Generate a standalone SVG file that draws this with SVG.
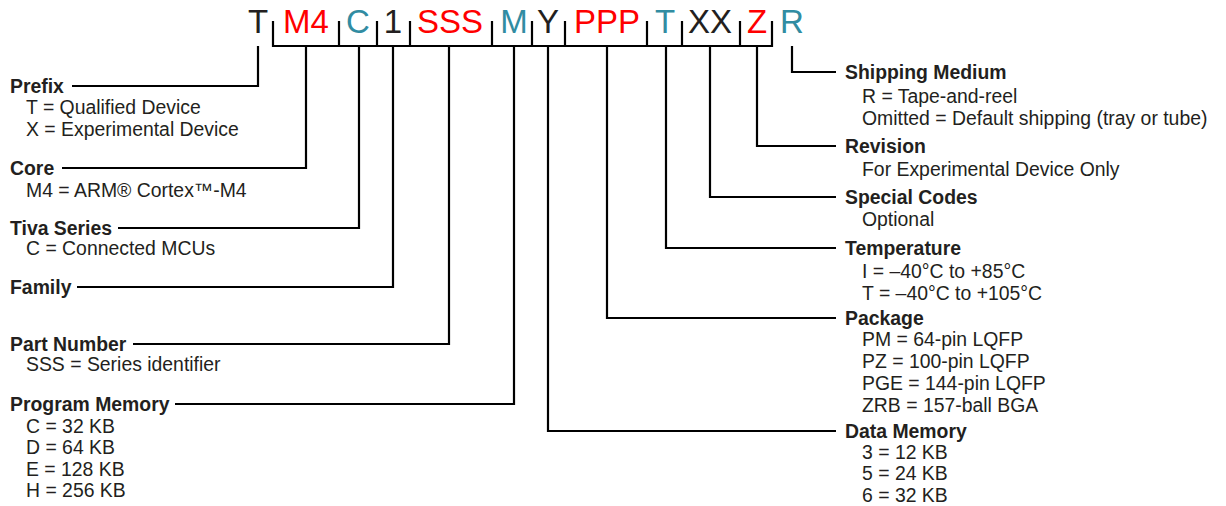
<svg xmlns="http://www.w3.org/2000/svg" width="1226" height="506" viewBox="0 0 1226 506">
<style>
.code{font-family:"Liberation Sans",Arial,sans-serif;font-size:33px;text-anchor:middle}
.k{fill:#231f20}.r{fill:#ff0000}.t{fill:#318ca2}
.h{font-family:"Liberation Sans",Arial,sans-serif;font-size:19.4px;font-weight:bold;fill:#231f20}
.s{font-family:"Liberation Sans",Arial,sans-serif;font-size:19.4px;fill:#231f20}
.ln{fill:none;stroke:#000;stroke-width:2.2}
</style>
<rect width="1226" height="506" fill="#fff"/>
<g id="code">
<text class="code k" x="258" y="33">T</text>
<text class="code r" x="306" y="33">M4</text>
<text class="code t" x="358" y="33">C</text>
<text class="code k" x="393" y="33">1</text>
<text class="code r" x="450" y="33">SSS</text>
<text class="code t" x="514" y="33">M</text>
<text class="code k" x="548" y="33">Y</text>
<text class="code r" x="607" y="33">PPP</text>
<text class="code t" x="665" y="33">T</text>
<text class="code k" x="710" y="33">XX</text>
<text class="code r" x="757" y="33">Z</text>
<text class="code t" x="792" y="33">R</text>
</g>
<g id="connectors">
<path class="ln" d="M273,21V46H772V21M339,21V46M377,21V46M410,21V46M492,21V46M532,21V46M565,21V46M647,21V46M682,21V46M740,21V46"/>
<path class="ln" d="M258,46V86H72"/>
<path class="ln" d="M306,46V168H62"/>
<path class="ln" d="M359,46V228H118"/>
<path class="ln" d="M393,46V287H77"/>
<path class="ln" d="M449,46V344H133"/>
<path class="ln" d="M514,46V404H175"/>
<path class="ln" d="M548,46V431H836"/>
<path class="ln" d="M607,46V318H836"/>
<path class="ln" d="M666,46V248H836"/>
<path class="ln" d="M710,46V197H836"/>
<path class="ln" d="M757,46V146H836"/>
<path class="ln" d="M792,46V72H836"/>
</g>
<g id="prefix"><text class="h" x="10" y="93">Prefix</text><text class="s" x="26" y="114">T = Qualified Device</text><text class="s" x="26" y="136">X = Experimental Device</text></g>
<g id="core"><text class="h" x="10" y="175">Core</text><text class="s" x="26" y="197">M4 = ARM® Cortex™-M4</text></g>
<g id="tiva"><text class="h" x="10" y="235">Tiva Series</text><text class="s" x="26" y="255">C = Connected MCUs</text></g>
<g id="family"><text class="h" x="10" y="294">Family</text></g>
<g id="partnumber"><text class="h" x="10" y="351">Part Number</text><text class="s" x="26" y="371">SSS = Series identifier</text></g>
<g id="progmem"><text class="h" x="10" y="411">Program Memory</text><text class="s" x="26" y="433">C = 32 KB</text><text class="s" x="26" y="454">D = 64 KB</text><text class="s" x="26" y="476">E = 128 KB</text><text class="s" x="26" y="497">H = 256 KB</text></g>
<g id="shipping"><text class="h" x="845" y="79">Shipping Medium</text><text class="s" x="862" y="103">R = Tape-and-reel</text><text class="s" x="862" y="125">Omitted = Default shipping (tray or tube)</text></g>
<g id="revision"><text class="h" x="845" y="153">Revision</text><text class="s" x="862" y="176">For Experimental Device Only</text></g>
<g id="special"><text class="h" x="845" y="204">Special Codes</text><text class="s" x="862" y="226">Optional</text></g>
<g id="temperature"><text class="h" x="845" y="255">Temperature</text><text class="s" x="862" y="278">I = –40°C to +85°C</text><text class="s" x="862" y="300">T = –40°C to +105°C</text></g>
<g id="package"><text class="h" x="845" y="325">Package</text><text class="s" x="862" y="346">PM = 64-pin LQFP</text><text class="s" x="862" y="368">PZ = 100-pin LQFP</text><text class="s" x="862" y="390">PGE = 144-pin LQFP</text><text class="s" x="862" y="412">ZRB = 157-ball BGA</text></g>
<g id="datamem"><text class="h" x="845" y="438">Data Memory</text><text class="s" x="862" y="459">3 = 12 KB</text><text class="s" x="862" y="480">5 = 24 KB</text><text class="s" x="862" y="502">6 = 32 KB</text></g>
</svg>
